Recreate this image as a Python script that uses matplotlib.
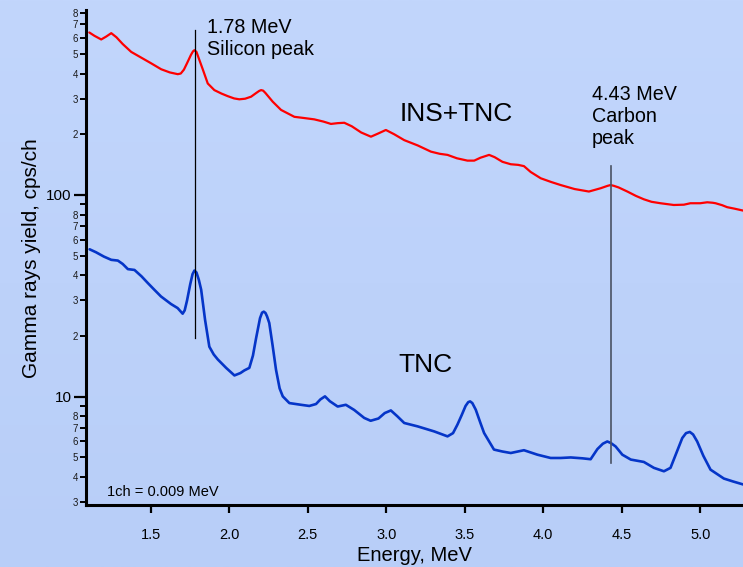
import numpy as np
import matplotlib
matplotlib.use("Agg")
import matplotlib.pyplot as plt
from matplotlib.ticker import FixedLocator, FuncFormatter
from matplotlib.colors import LinearSegmentedColormap

plt.rcParams['font.family'] = ['Liberation Sans', 'DejaVu Sans']

# INS+TNC spectrum (energy in MeV, yield in cps/ch)
ins_energy = [1.107, 1.14, 1.183, 1.215, 1.247, 1.28, 1.32, 1.374, 1.437, 1.50,
              1.565, 1.62, 1.671, 1.69, 1.71, 1.73, 1.755, 1.768, 1.777, 1.79,
              1.809, 1.83, 1.862, 1.904, 1.95, 1.989, 2.03, 2.063, 2.10, 2.138,
              2.17, 2.19, 2.202, 2.215, 2.23, 2.276, 2.329, 2.414, 2.47, 2.541,
              2.60, 2.647, 2.69, 2.732, 2.78, 2.84, 2.902, 2.95, 2.997, 3.05,
              3.114, 3.20, 3.284, 3.34, 3.39, 3.45, 3.517, 3.56, 3.60, 3.655,
              3.69, 3.74, 3.793, 3.84, 3.877, 3.92, 3.984, 4.05, 4.111, 4.20,
              4.291, 4.366, 4.41, 4.429, 4.45, 4.48, 4.536, 4.59, 4.641, 4.69,
              4.747, 4.832, 4.896, 4.938, 5.00, 5.045, 5.08, 5.098, 5.14, 5.172,
              5.22, 5.276]
ins_yield = [639, 615, 590, 610, 634, 605, 560, 512, 480, 450,
             420, 405, 397, 400, 418, 450, 495, 515, 522, 512,
             466, 420, 357, 331, 318, 309, 301, 298, 300, 307,
             320, 328, 331, 329, 320, 290, 264, 244, 241, 237,
             231, 225, 227, 228, 219, 204, 194.5, 202, 210, 200,
             187, 176, 164, 160, 158, 152, 148, 148, 153, 158,
             154, 146, 142, 141, 139, 130, 121, 116, 112, 107,
             104, 108, 111, 112, 111, 109, 104, 99, 95.2, 92.5,
             91, 89.2, 89.5, 91, 91, 92, 91.5, 91, 89, 87,
             85.5, 83.6]

# TNC spectrum
tnc_energy = [1.109, 1.15, 1.20, 1.247, 1.289, 1.32, 1.353, 1.395, 1.44, 1.48,
              1.52, 1.564, 1.628, 1.67, 1.702, 1.715, 1.73, 1.75, 1.765, 1.777,
              1.79, 1.805, 1.82, 1.845, 1.872, 1.90, 1.926, 1.979, 2.032, 2.07,
              2.095, 2.127, 2.15, 2.17, 2.195, 2.208, 2.219, 2.23, 2.24, 2.254,
              2.275, 2.297, 2.32, 2.34, 2.382, 2.456, 2.509, 2.552, 2.58, 2.609,
              2.64, 2.69, 2.742, 2.795, 2.859, 2.90, 2.95, 2.99, 3.029, 3.07,
              3.114, 3.199, 3.305, 3.39, 3.425, 3.453, 3.48, 3.505, 3.522, 3.534,
              3.548, 3.57, 3.60, 3.623, 3.686, 3.74, 3.793, 3.877, 3.963, 4.047,
              4.111, 4.175, 4.25, 4.302, 4.345, 4.38, 4.408, 4.43, 4.461, 4.504,
              4.558, 4.641, 4.705, 4.769, 4.811, 4.85, 4.886, 4.91, 4.934, 4.955,
              4.981, 5.02, 5.066, 5.151, 5.21, 5.276]
tnc_yield = [53.8, 52, 49.5, 47.7, 47.3, 45.5, 42.9, 42.5, 39.5, 36.6,
             34, 31.4, 28.8, 27.5, 25.8, 26.8, 30, 36, 40.5, 42.2,
             41.3, 38, 33.9, 24, 17.7, 16.2, 15.3, 13.9, 12.75, 13.1,
             13.5, 13.9, 16, 19.5, 24.5, 26.1, 26.4, 26, 25, 23.2,
             18, 13.6, 11, 10.04, 9.3, 9.12, 9.0, 9.2, 9.7, 10.04,
             9.5, 8.94, 9.12, 8.6, 7.85, 7.6, 7.8, 8.3, 8.55, 8.0,
             7.41, 7.13, 6.73, 6.36, 6.6, 7.27, 8.1, 9.0, 9.4, 9.48,
             9.3, 8.62, 7.4, 6.61, 5.47, 5.35, 5.26, 5.43, 5.16, 4.97,
             4.97, 5.0, 4.95, 4.9, 5.5, 5.85, 6.0, 5.9, 5.67, 5.16,
             4.88, 4.75, 4.44, 4.27, 4.44, 5.3, 6.24, 6.6, 6.69, 6.5,
             6.0, 5.1, 4.35, 3.93, 3.8, 3.67]

x_ticks = [1.5, 2.0, 2.5, 3.0, 3.5, 4.0, 4.5, 5.0]
x_tick_labels = ['1.5', '2.0', '2.5', '3.0', '3.5', '4.0', '4.5', '5.0']
y_major = [10, 100]
y_minor = [3, 4, 5, 6, 7, 8, 9, 20, 30, 40, 50, 60, 70, 80, 90,
           200, 300, 400, 500, 600, 700, 800]

silicon_energy = 1.78
carbon_energy = 4.43

fig = plt.figure(figsize=(7.43, 5.67), dpi=100)

# soft vertical gradient behind everything
bg = fig.add_axes([0, 0, 1, 1], zorder=-1)
grad = np.linspace(0, 1, 256).reshape(-1, 1)
cmap = LinearSegmentedColormap.from_list('bgfade', ['#c2d6fc', '#b8cef8'])
bg.imshow(grad, aspect='auto', cmap=cmap, extent=[0, 1, 0, 1], origin='upper')
bg.set_axis_off()

ax = fig.add_axes([0.1151, 0.1085, 0.8849, 0.8739])
ax.set_facecolor('none')

ax.plot(ins_energy, ins_yield, color='#ff0000', lw=1.6,
        solid_joinstyle='round', solid_capstyle='round')
ax.plot(tnc_energy, tnc_yield, color='#0535c8', lw=1.9,
        solid_joinstyle='round', solid_capstyle='round')

ax.set_yscale('log')
ax.set_xlim(1.083, 5.273)
ax.set_ylim(2.89, 826)

# marker lines for the identified peaks
ax.plot([silicon_energy, silicon_energy], [19.5, 660], color='black', lw=0.9)
ax.plot([carbon_energy, carbon_energy], [4.69, 139], color='#4a5263', lw=1.2)

ax.text(1.857, 751, '1.78 MeV\nSilicon peak', fontsize=14.2, va='top', ha='left')
ax.text(4.309, 351, '4.43 MeV\nCarbon\npeak', fontsize=14.2, va='top', ha='left')
ax.text(3.087, 233, 'INS+TNC', fontsize=19, va='baseline', ha='left')
ax.text(3.076, 13.2, 'TNC', fontsize=19, va='baseline', ha='left')
ax.text(1.2215, 3.23, '1ch = 0.009 MeV', fontsize=10.5, va='baseline', ha='left')

# axes styling
for side in ('top', 'right'):
    ax.spines[side].set_visible(False)
for side in ('left', 'bottom'):
    ax.spines[side].set_linewidth(2.2)

ax.xaxis.set_major_locator(FixedLocator(x_ticks))
ax.set_xticklabels(x_tick_labels)
ax.tick_params(axis='x', which='major', direction='out', length=6, width=1.6,
               labelsize=10.5, pad=10)

ax.yaxis.set_major_locator(FixedLocator(y_major))
ax.yaxis.set_minor_locator(FixedLocator(y_minor))
ax.yaxis.set_major_formatter(FuncFormatter(lambda v, p: f'{int(round(v))}'))


def minor_label(v, pos):
    lead = int(round(v / 10 ** np.floor(np.log10(v) + 1e-9)))
    return '' if lead == 9 else str(lead)


ax.yaxis.set_minor_formatter(FuncFormatter(minor_label))
ax.tick_params(axis='y', which='major', direction='out', length=9, width=1.6,
               labelsize=11, pad=1)
ax.tick_params(axis='y', which='minor', direction='out', length=4.5, width=1.4,
               labelsize=7, pad=1, labelcolor='#1a1a1a')

ax.set_xlabel('Energy, MeV', fontsize=14.5, labelpad=3)
ax.set_ylabel('Gamma rays yield, cps/ch', fontsize=15, labelpad=4)

fig.savefig('out.png', dpi=100)
